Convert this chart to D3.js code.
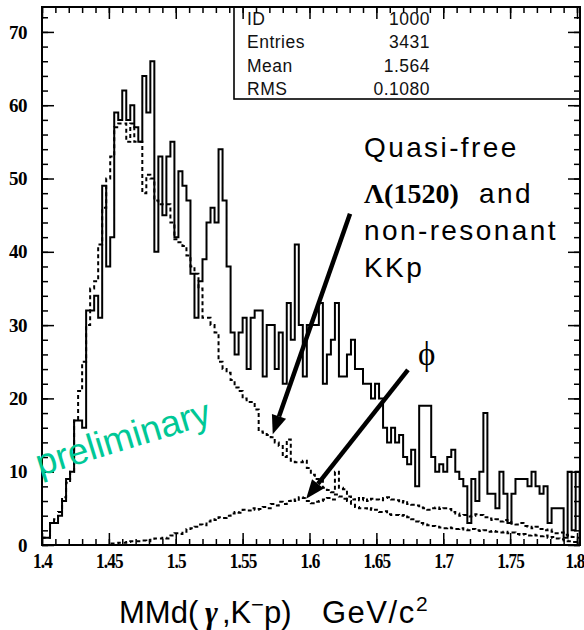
<!DOCTYPE html>
<html><head><meta charset="utf-8">
<script src="https://cdn.jsdelivr.net/npm/d3@7"></script>
<style>body{margin:0;background:#fff} svg{display:block}</style>
</head><body><svg id="c" width="584" height="630"></svg>
<script>
// ---------- data ----------
const binStart = 1.4, binWidth = 0.003;
const dataTotal = [1,1,3,3,4,6,9,10,17,17, 16,32,32,34,31,49,38,42,59,58, 62,58,60,57,55,64,59,66,40,53,
 45,53,55,42,51,49,47,37,31,36, 39,44,46,44,54,47,38,29,26,29, 31,24,31,32,32,23,30,30,24,29,
 22,33,28,41,30,23,30,30,30,33, 22,26,28,33,23,23,26,28,24,24, 22,22,20,22,20,16,14,16,14,15,
 12,11,13,8,19,19,19,12,10,11, 10,12,13,10,9,8,3,9,6,10, 18,7,7,5,10,7,3,7,9,9,
 9,8,10,8,7,8,3,5,5,5, 1,10,2,10];
const dataLambda = [1,1,3,3.5,4.5,6.5,8.5,10,17,21, 25,30,35,36,41,46,50,53,57,57.5, 57.5,55,57.5,55,55,48,50.5,50,47,46.5,
 46.5,46.5,44,41.7,41.3,40.8,39.5,38,37,35, 31,31,30,29,25,24,23.5,22.5,21.5,21, 20,19.5,19.5,18.5,15.5,15.3,15,14.7,14,13.5,
 12,14.4,11.5,11.3,11.3,11.5,10.5,9.6,9,9, 7.8,7.5,7.2,10,7.8,7.6,6,5.5,5.2,5, 5,4.8,5,4.8,4.5,4.6,4.2,4.1,4.1,4,
 4.1,3.8,3.5,3.2,3,2.8,2.7,2.6,2.5,2.4, 2.3,2.4,2.3,2.2,2.3,2.1,2,2.2,2,1.9, 2,1.8,1.9,1.8,1.7,1.8,1.6,1.7,1.5,1.4,
 1.5,1.3,1.4,1.3,1.2,1.3,1,1.1,0.9,0.8, 0.6,0.5,0.4,0.4];
const dataPhi = [0,0,0,0,0,0,0,0,0,0, 0,0,0,0,0,0,0,0.2,0.2,0.3, 0.3,0.4,0.5,0.5,0.5,0.6,0.5,0.7,0.9,0.9,
 1,0.9,1.3,1.6,1.5,1.8,2.2,2.3,2.5,2.8, 2.7,3.2,3.5,3.4,3.8,3.7,4,4.3,4.5,4.4, 4.8,4.7,5,4.8,4.9,5.2,5,5.6,5.4,5.9,
 5.6,6,6.2,6,6.5,6.4,6,5.7,5.9,6, 6.2,6.4,6.2,6.9,6.6,6.3,6.6,6.2,6.4,6.1, 6.4,6,6.3,6.2,6.1,6.4,6.5,6.2,6.1,5.8,
 6,5.6,5.5,5.4,5.1,5,4.8,5,5.1,4.9, 5,4.9,4.5,4.3,4,4.1,3.9,4,4.2,4.1, 3.8,3.6,3.4,3.5,3.2,3.4,3.1,2.9,2.8,3,
 2.6,2.5,2.3,2.5,2.2,2,2.1,1.8,1.6,1.7, 1.4,1.3,1.1,1];
const xTicks = [1.4,1.45,1.5,1.55,1.6,1.65,1.7,1.75,1.8];
const xTickLabels = ["1.4","1.45","1.5","1.55","1.6","1.65","1.7","1.75","1.8"];
const yTicks = [0,10,20,30,40,50,60,70];
const statLabels = ["ID","Entries","Mean","RMS"];
const statValues = ["1000","3431","1.564","0.1080"];
// annotation arrows in data coordinates: [x tail, y tail, x head, y head]
const arrows = [[1.6303,45.2,1.5725,15.1],[1.6736,23.9,1.5975,6.3]];

// ---------- layout ----------
const L = 42, R = 580, T = 7, B = 545;
const svg = d3.select("#c");
const x = d3.scaleLinear().domain([1.4,1.8]).range([L,577]);
const y = d3.scaleLinear().domain([0,73.4]).range([B,T]);

function stepPoints(vals){
  const pts = [[binStart,0]];
  vals.forEach((v,i)=>pts.push([binStart+i*binWidth,v]));
  const xe = binStart+vals.length*binWidth;
  pts.push([xe,vals[vals.length-1]]); pts.push([xe,0]);
  return pts;
}
const line = d3.line().x(d=>x(d[0])).y(d=>y(d[1])).curve(d3.curveStepAfter);

// stats box
const sb = svg.append("g");
sb.append("rect").attr("x",234).attr("y",T).attr("width",R-234).attr("height",92)
  .attr("fill","#fff").attr("stroke","#000").attr("stroke-width",1.6);
statLabels.forEach((s,i)=>{
  sb.append("text").attr("x",247).attr("y",25+i*23.3).text(s)
    .style("font-family","Liberation Sans, Arial").style("font-size","17.5px").style("letter-spacing","0.5px").attr("fill","#111");
  sb.append("text").attr("x",430).attr("y",25+i*23.3).attr("text-anchor","end").text(statValues[i])
    .style("font-family","Liberation Sans, Arial").style("font-size","17.5px").style("letter-spacing","0.5px").attr("fill","#111");
});

// histograms
svg.append("path").attr("d",line(stepPoints(dataPhi))).attr("fill","none")
  .attr("stroke","#000").attr("stroke-width",2).attr("stroke-dasharray","4,3");
svg.append("path").attr("d",line(stepPoints(dataLambda))).attr("fill","none")
  .attr("stroke","#000").attr("stroke-width",2).attr("stroke-dasharray","4,3");
svg.append("path").attr("d",line(stepPoints(dataTotal))).attr("fill","none")
  .attr("stroke","#000").attr("stroke-width",2);

// frame
svg.append("rect").attr("x",L).attr("y",T).attr("width",R-L).attr("height",B-T)
  .attr("fill","none").attr("stroke","#000").attr("stroke-width",2);

// axes
const minorX = d3.range(0,41).map(i=>1.4+i*0.01);
const minorY = d3.range(0,37).map(i=>i*2);
function styleAxis(g){ g.select(".domain").remove(); g.selectAll("line").attr("stroke","#000").attr("stroke-width",1.5); }
svg.append("g").attr("transform",`translate(0,${B})`)
  .call(d3.axisBottom(x).tickValues(minorX).tickSize(-6).tickFormat("")).call(styleAxis);
const xb = svg.append("g").attr("transform",`translate(0,${B})`)
  .call(d3.axisBottom(x).tickValues(xTicks).tickSize(-12).tickPadding(9).tickFormat((d,i)=>xTickLabels[i])).call(styleAxis);
xb.selectAll("text").style("font-family","Liberation Serif, Times New Roman").style("font-weight","bold")
  .style("font-size","20px").style("letter-spacing","-1px").attr("fill","#000").attr("transform","scale(0.86,1)");
xb.selectAll("text").filter((d,i)=>i===xTicks.length-1).attr("text-anchor","end").attr("x",8);
svg.append("g").attr("transform",`translate(0,${T})`)
  .call(d3.axisTop(x).tickValues(minorX).tickSize(-6).tickFormat("")).call(styleAxis);
svg.append("g").attr("transform",`translate(0,${T})`)
  .call(d3.axisTop(x).tickValues(xTicks).tickSize(-12).tickFormat("")).call(styleAxis);
svg.append("g").attr("transform",`translate(${L},0)`)
  .call(d3.axisLeft(y).tickValues(minorY).tickSize(-6).tickFormat("")).call(styleAxis);
const yl = svg.append("g").attr("transform",`translate(${L},0)`)
  .call(d3.axisLeft(y).tickValues(yTicks).tickSize(-12).tickPadding(15).tickFormat(d3.format("d"))).call(styleAxis);
yl.selectAll("text").style("font-family","Liberation Serif, Times New Roman").style("font-weight","bold")
  .style("font-size","19px").style("letter-spacing","-0.5px").attr("fill","#000");
svg.append("g").attr("transform",`translate(${R},0)`)
  .call(d3.axisRight(y).tickValues(minorY).tickSize(-6).tickFormat("")).call(styleAxis);
svg.append("g").attr("transform",`translate(${R},0)`)
  .call(d3.axisRight(y).tickValues(yTicks).tickSize(-12).tickFormat("")).call(styleAxis);

// x title
const tt = svg.append("text").attr("y",623)
  .style("font-family","Liberation Sans, Arial").style("font-size","31px").attr("fill","#000");
tt.append("tspan").attr("x",119).text("MMd(");
tt.append("tspan").attr("x",205).style("font-family","Liberation Serif, Times New Roman").style("font-weight","bold")
  .style("font-style","italic").text("γ");
tt.append("tspan").attr("x",222).text(",K");
tt.append("tspan").attr("x",251).attr("dy",-11).style("font-size","22px").text("−");
tt.append("tspan").attr("x",264).attr("dy",11).text("p)");
tt.append("tspan").attr("x",322).style("letter-spacing","1.5px").text("GeV/c");
tt.append("tspan").attr("x",416).attr("dy",-12).style("font-size","21px").text("2");

// annotations
const af = "Liberation Sans, Arial";
function ann(txt,xx,yy){ return svg.append("text").attr("x",xx).attr("y",yy).text(txt)
  .style("font-family",af).style("font-size","28px").style("letter-spacing","2.4px").attr("fill","#000"); }
ann("Quasi-free",364,157);
const lam = svg.append("text").attr("x",364).attr("y",203).style("white-space","pre").attr("fill","#000");
lam.append("tspan").style("font-family","Liberation Serif, Times New Roman").style("font-weight","bold")
  .style("font-size","28px").text("Λ(1520)");
lam.append("tspan").style("font-family",af).style("font-size","28px").style("letter-spacing","2.4px").text("  and");
ann("non-resonant",364,240);
ann("KKp",364,277);
svg.append("text").attr("x",418).attr("y",365).text("ϕ")
  .style("font-family","Liberation Serif, Times New Roman").style("font-size","33px").attr("fill","#000");

// arrows
arrows.forEach(a=>{
  const x1=x(a[0]), y1=y(a[1]), x2=x(a[2]), y2=y(a[3]);
  const ang = Math.atan2(y2-y1,x2-x1), hl=19, hw=7.5;
  const bx = x2-hl*Math.cos(ang), by = y2-hl*Math.sin(ang);
  svg.append("line").attr("x1",x1).attr("y1",y1).attr("x2",bx).attr("y2",by)
    .attr("stroke","#000").attr("stroke-width",4.5);
  const p = [[x2,y2],[bx+hw*Math.sin(ang),by-hw*Math.cos(ang)],[bx-hw*Math.sin(ang),by+hw*Math.cos(ang)]];
  svg.append("path").attr("d","M"+p.map(q=>q.join(",")).join("L")+"Z").attr("fill","#000");
});

// preliminary
svg.append("text").attr("transform","translate(40,476) rotate(-17)").text("preliminary")
  .style("font-family",af).style("font-size","37px").attr("fill","#00c896");
</script></body></html>
